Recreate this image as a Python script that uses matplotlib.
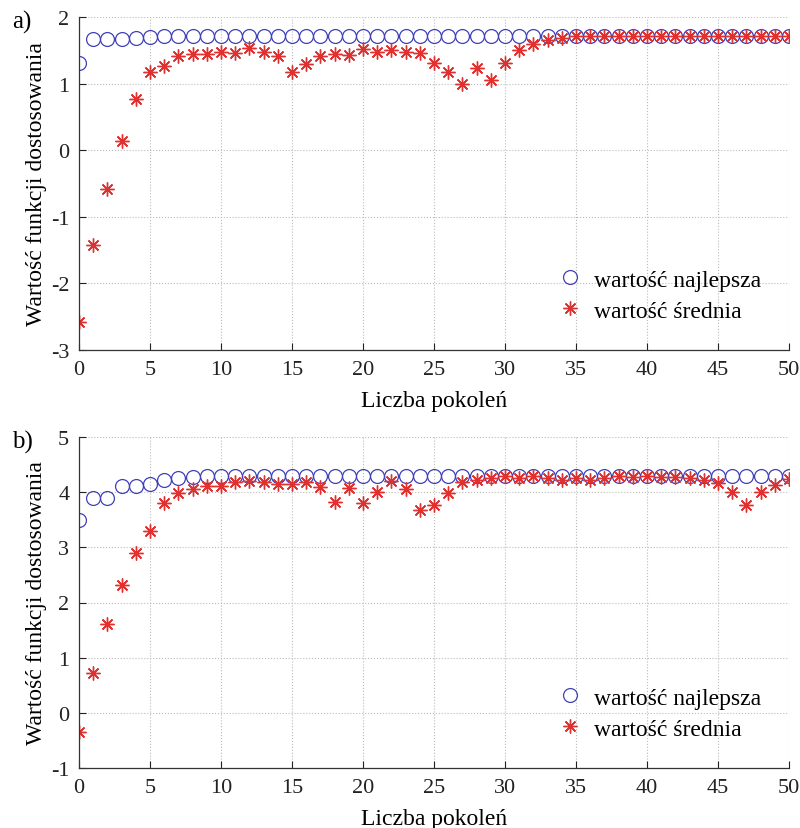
import matplotlib
matplotlib.use("Agg")
import matplotlib.pyplot as plt
import numpy as np

plt.rcParams['font.family'] = ['Liberation Serif', 'DejaVu Serif']
plt.rcParams['axes.unicode_minus'] = False

generations = list(range(51))

best_a = [1.31, 1.67, 1.67, 1.67, 1.68, 1.70, 1.71] + [1.72] * 44
mean_a = [-2.58, -1.43, -0.58, 0.14, 0.77, 1.17, 1.27, 1.42, 1.45, 1.45,
          1.48, 1.46, 1.53, 1.47, 1.42, 1.18, 1.30, 1.42, 1.45, 1.43,
          1.52, 1.47, 1.50, 1.47, 1.46, 1.31, 1.17, 0.99, 1.23, 1.06,
          1.31, 1.50, 1.60, 1.65, 1.68] + [1.71] * 16

best_b = [3.50, 3.90, 3.90, 4.11, 4.11, 4.14, 4.22, 4.25, 4.27] + [4.29] * 42
mean_b = [-0.35, 0.72, 1.61, 2.31, 2.90, 3.30, 3.81, 3.99, 4.05, 4.11,
          4.11, 4.19, 4.20, 4.18, 4.15, 4.15, 4.19, 4.10, 3.82, 4.07,
          3.81, 4.01, 4.21, 4.05, 3.68, 3.77, 3.98, 4.19, 4.22, 4.26,
          4.29, 4.26, 4.29, 4.26, 4.22, 4.26, 4.22, 4.26, 4.29, 4.28,
          4.29, 4.28, 4.27, 4.26, 4.22, 4.16, 4.01, 3.76, 4.00, 4.13, 4.24]

x_ticks = [0, 5, 10, 15, 20, 25, 30, 35, 40, 45, 50]
y_ticks_a = [-3, -2, -1, 0, 1, 2]
y_ticks_b = [-1, 0, 1, 2, 3, 4, 5]

xlabel = "Liczba pokoleń"
ylabel = "Wartość funkcji dostosowania"
label_best = "wartość najlepsza"
label_mean = "wartość średnia"

W, H = 800, 829
fig = plt.figure(figsize=(W / 100, H / 100), dpi=100)

def make_ax(top, bottom, best, mean, yticks, tag):
    left, right = 79, 789
    ax = fig.add_axes([left / W, 1 - bottom / H, (right - left) / W, (bottom - top) / H])
    ax.plot(generations, best, linestyle='none', marker='o', markersize=10,
            markerfacecolor='none', markeredgecolor='#4040b8', markeredgewidth=0.9,
            label=label_best)
    ax.plot(generations, mean, linestyle='none', marker=(8, 2, 0), markersize=10,
            markeredgecolor='#e03030', markerfacecolor='#e03030', markeredgewidth=1.0,
            label=label_mean)
    ax.set_xlim(0, 50)
    ax.set_ylim(yticks[0], yticks[-1])
    ax.set_xticks(x_ticks)
    ax.set_yticks(yticks)
    ax.grid(True, color='#bbbbbb', linestyle=':', linewidth=0.8)
    for s in ['top', 'right']:
        ax.spines[s].set_visible(False)
    for s in ['left', 'bottom']:
        ax.spines[s].set_color('#333333')
        ax.spines[s].set_linewidth(0.9)
    ax.tick_params(direction='in', length=5, labelsize=16, colors='#222222',
                   pad=7)
    ax.tick_params(axis='y', pad=7)
    ax.set_xlabel(xlabel, fontsize=17, labelpad=8)
    ax.set_ylabel(ylabel, fontsize=17, labelpad=3)
    ax.legend(loc='lower right', frameon=False, fontsize=17,
              handletextpad=0.4, borderaxespad=0.8, labelspacing=0.4,
              handlelength=1.2)
    fig.text(12 / W, 1 - (top + 4) / H, tag, fontsize=18, va='center', ha='left')
    return ax

make_ax(18, 351, best_a, mean_a, y_ticks_a, 'a)')
make_ax(438, 769, best_b, mean_b, y_ticks_b, 'b)')

fig.savefig('out.png', dpi=100, facecolor='white')
